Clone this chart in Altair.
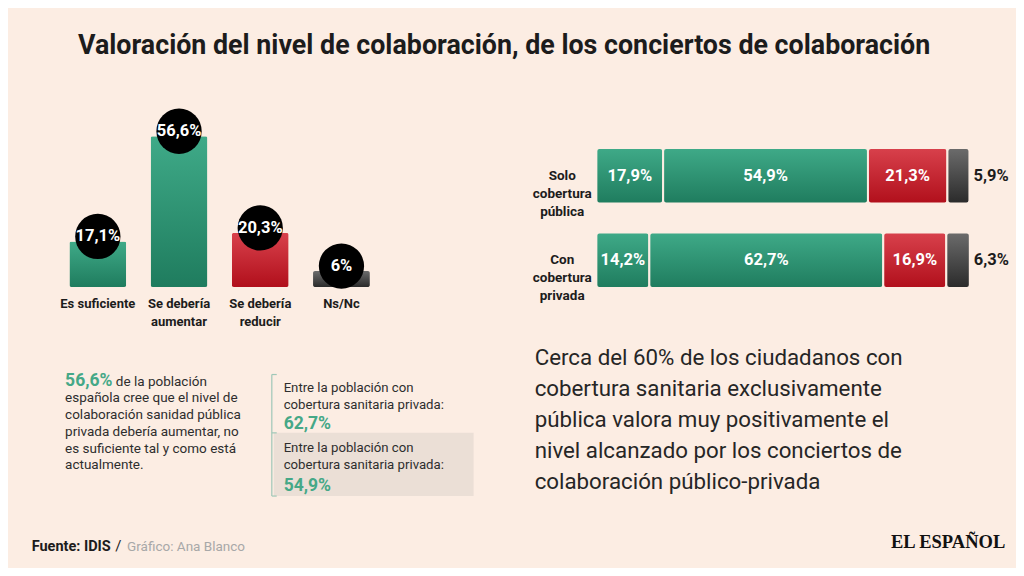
import altair as alt
import pandas as pd

# ---------------- data ----------------
titulo = "Valoración del nivel de colaboración, de los conciertos de colaboración"

cats = ["Es suficiente", "Se debería aumentar", "Se debería reducir", "Ns/Nc"]
cat_labels = ["Es suficiente", "Se debería\naumentar", "Se debería\nreducir", "Ns/Nc"]
cat_vals = [17.1, 56.6, 20.3, 6.0]
cat_text = ["17,1%", "56,6%", "20,3%", "6%"]
cat_group = ["verde", "verde", "rojo", "gris"]

grupos = ["Solo cobertura pública", "Con cobertura privada"]
grupo_labels = ["Solo\ncobertura\npública", "Con\ncobertura\nprivada"]
resp = ["Es suficiente", "Se debería aumentar", "Se debería reducir", "Ns/Nc"]
resp_group = ["verde", "verde", "rojo", "gris"]
solo_vals = [17.9, 54.9, 21.3, 5.9]
con_vals = [14.2, 62.7, 16.9, 6.3]

parrafo_cifra = "56,6%"
parrafo_l1 = "de la población"
parrafo_resto = ["española cree que el nivel de", "colaboración sanidad pública",
                 "privada debería aumentar, no", "es suficiente tal y como está",
                 "actualmente."]
caja_texto = ["Entre la población con", "cobertura sanitaria privada:"]
caja1_cifra = "62,7%"
caja2_cifra = "54,9%"
conclusion = ["Cerca del 60% de los ciudadanos con", "cobertura sanitaria exclusivamente",
              "pública valora muy positivamente el", "nivel alcanzado por los conciertos de",
              "colaboración público-privada"]
fuente = "Fuente: IDIS"
grafico = "Gráfico: Ana Blanco"
logo = "EL ESPAÑOL"

# ---------------- style ----------------
BG = "#fcede3"
FONT = "Roboto"
DARK = "#1c1c1c"
TEXT = "#2e2e2e"
TEAL = "#45a887"
W, H = 1008, 560
SX, SY = W / 1024, H / 576


def X(v):
    return v * SX


def Y(v):
    return v * SY


def grad(top, bot):
    return alt.Gradient(gradient="linear",
                        stops=[alt.GradientStop(offset=0, color=top),
                               alt.GradientStop(offset=1, color=bot)],
                        x1=0, x2=0, y1=0, y2=1)


FILLS = {"verde": grad("#3faa88", "#1f7c5e"),
         "rojo": grad("#d8414c", "#b10f1b"),
         "gris": grad("#6c6c6c", "#2a2a2a")}


def fmt(v):
    return f"{v:.1f}".replace(".", ",") + "%"


def txt(s, x, y, size, color=TEXT, weight="normal", font=FONT, align="left",
        baseline="alphabetic", lh=None):
    kw = dict(text=s, font=font, fontSize=size, fontWeight=weight, color=color,
              align=align, baseline=baseline, lineBreak="\n")
    if lh is not None:
        kw["lineHeight"] = lh
    return alt.Chart(alt.Data(values=[{}])).mark_text(**kw).encode(
        x=alt.value(X(x)), y=alt.value(Y(y)))


layers = []

# ---------------- left bar chart ----------------
dfL = pd.DataFrame({"cat": cats, "lab": cat_labels, "val": cat_vals,
                    "txt": cat_text, "grp": cat_group})
xL = alt.Scale(domain=cats, range=[X(50), X(380)], paddingInner=0.3, paddingOuter=0.15)
yL = alt.Scale(domain=[0, 60], range=[Y(287), Y(287 - 164.4)])
baseL = alt.Chart(dfL)
encL = dict(x=alt.X("cat:N", scale=xL, axis=None), y=alt.Y("val:Q", scale=yL, axis=None))

for g, f in FILLS.items():
    layers.append(baseL.transform_filter(alt.datum.grp == g)
                  .mark_bar(fill=f, cornerRadius=2).encode(**encL))
layers.append(baseL.mark_circle(size=2050, color="black", opacity=1, yOffset=-5).encode(**encL))
layers.append(baseL.mark_text(color="white", font=FONT, fontWeight="bold", fontSize=16.5,
                              baseline="middle", dy=-5).encode(text="txt:N", **encL))
layers.append(baseL.mark_text(color=DARK, font=FONT, fontWeight="bold", fontSize=13,
                              baseline="top", lineBreak="\n", lineHeight=18)
              .encode(x=alt.X("cat:N", scale=xL, axis=None), y=alt.value(Y(298)),
                      text="lab:N"))

# ---------------- right stacked bars ----------------
rows = []
for g, gl, vals in zip(grupos, grupo_labels, [solo_vals, con_vals]):
    s = 0.0
    for r, v, grp in zip(resp, vals, resp_group):
        rows.append(dict(grupo=g, glab=gl, resp=r, start=s, end=s + v, mid=s + v / 2,
                         txt=fmt(v), grp=grp))
        s += v
dfR = pd.DataFrame(rows)
xR = alt.Scale(domain=[0, 100], range=[X(597.7), X(976.7)])
yR = alt.Scale(domain=grupos, range=[Y(129), Y(303)], paddingInner=0.345, paddingOuter=0.1724)
baseR = alt.Chart(dfR)
yEnc = alt.Y("grupo:N", scale=yR, axis=None)

for g, f in FILLS.items():
    layers.append(baseR.transform_filter(alt.datum.grp == g)
                  .mark_bar(fill=f, stroke=BG, strokeWidth=2, cornerRadius=3)
                  .encode(x=alt.X("start:Q", scale=xR, axis=None), x2="end:Q", y=yEnc))
layers.append(baseR.transform_filter(alt.datum.resp != "Ns/Nc")
              .mark_text(color="white", font=FONT, fontWeight="bold", fontSize=16.5,
                         baseline="middle")
              .encode(x=alt.X("mid:Q", scale=xR, axis=None), y=yEnc, text="txt:N"))
layers.append(baseR.transform_filter(alt.datum.resp == "Ns/Nc")
              .mark_text(color=DARK, font=FONT, fontWeight="bold", fontSize=16.5,
                         baseline="middle", align="left", dx=4)
              .encode(x=alt.X("end:Q", scale=xR, axis=None), y=yEnc, text="txt:N"))
layers.append(baseR.transform_filter(alt.datum.resp == "Es suficiente")
              .mark_text(color=DARK, font=FONT, fontWeight="bold", fontSize=13.5,
                         baseline="middle", align="center", lineBreak="\n", lineHeight=18)
              .encode(x=alt.value(X(563)), y=yEnc, text="glab:N"))

# ---------------- texts ----------------
layers.append(txt(titulo, 504, 47, 26.8, color=DARK, weight="bold", align="center"))

layers.append(txt(parrafo_cifra, 58, 389, 17.5, color=TEAL, weight="bold"))
layers.append(txt(parrafo_l1, 109.5, 389, 13.5))
layers.append(txt("\n".join(parrafo_resto), 58, 405.5, 13.5, lh=16.8))

# box decorations
layers.append(alt.Chart(alt.Data(values=[{}])).mark_rect(color="#ebdfd6").encode(
    x=alt.value(X(270)), x2=alt.value(X(473)), y=alt.value(Y(437)), y2=alt.value(Y(502))))
layers.append(alt.Chart(alt.Data(values=[{}])).mark_rule(color="#9fc8b8", strokeWidth=1.2).encode(
    x=alt.value(X(268)), y=alt.value(Y(377)), y2=alt.value(Y(502))))
for yy in [377, 437, 502]:
    layers.append(alt.Chart(alt.Data(values=[{}])).mark_rule(color="#9fc8b8", strokeWidth=1.2).encode(
        x=alt.value(X(268)), x2=alt.value(X(273)), y=alt.value(Y(yy))))

layers.append(txt("\n".join(caja_texto), 280, 394.5, 13.2, lh=17))
layers.append(txt(caja1_cifra, 280, 433, 17.5, color=TEAL, weight="bold"))
layers.append(txt("\n".join(caja_texto), 280, 457, 13.2, lh=17))
layers.append(txt(caja2_cifra, 280, 496.5, 17.5, color=TEAL, weight="bold"))

layers.append(txt("\n".join(conclusion), 535, 367, 22.3, color="#262626", lh=31))

layers.append(txt(fuente, 24, 559, 14.5, color=DARK, weight="bold"))
layers.append(txt("/", 109, 559, 15, color=DARK))
layers.append(txt(grafico, 121, 559, 13.5, color="#a8a8a8"))
layers.append(txt(logo, 955, 555.5, 18.5, color="#111111", weight="bold",
                  font="Liberation Serif", align="center"))

chart = (alt.layer(*layers)
         .resolve_scale(x="independent", y="independent")
         .properties(width=W, height=H, padding=0, autosize="none", background=BG)
         .configure_view(stroke=None))

chart.save("out.html", embed_options={"renderer": "svg", "actions": False})
